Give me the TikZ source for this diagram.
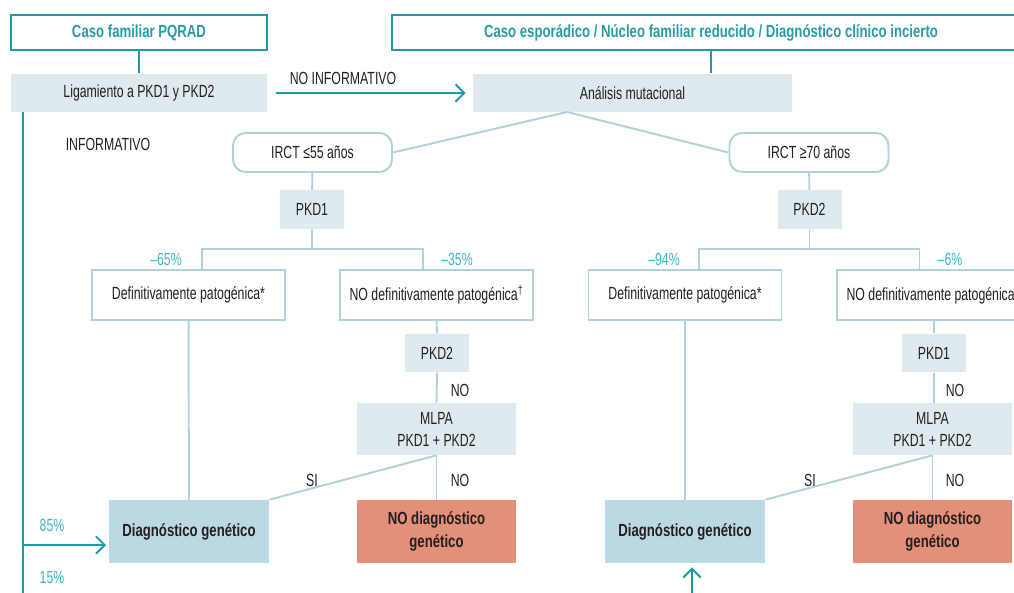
\documentclass[tikz,border=0pt]{standalone}
\usepackage{fontspec}
\setmainfont{Liberation Sans}[FakeStretch=0.7, BoldFeatures={FakeStretch=0.75}]
\usepackage{xcolor}
\usetikzlibrary{arrows.meta}

\definecolor{tealdark}{HTML}{1E9AA4}
\definecolor{tealtext}{HTML}{2A9BA6}
\definecolor{tealpct}{HTML}{3DB3C2}
\definecolor{linelight}{HTML}{AFD2DB}
\definecolor{boxgray}{HTML}{DEEAEE}
\definecolor{boxdiag}{HTML}{BCD9E2}
\definecolor{boxno}{HTML}{E3907A}
\definecolor{txt}{HTML}{231F20}

\begin{document}
\begin{tikzpicture}[x=0.02cm, y=-0.02cm]
\tikzstyle{every node}=[font=\fontsize{10}{12.5}\selectfont, text=txt, inner sep=0pt]
\tikzstyle{casebox}=[draw=tealdark, line width=1.4pt, text=tealtext, font=\fontsize{10}{12}\selectfont\bfseries, minimum height=0.7cm]
\tikzstyle{greybox}=[fill=boxgray, minimum height=0.77cm]
\tikzstyle{agebox}=[draw=linelight, line width=1.1pt, rounded corners=0.25cm, minimum width=3.18cm, minimum height=0.78cm]
\tikzstyle{varbox}=[draw=linelight, line width=1.1pt, minimum width=3.86cm, minimum height=1cm]
\tikzstyle{diagbox}=[fill=boxdiag, font=\fontsize{10}{13}\selectfont\bfseries, minimum width=3.2cm, minimum height=1.26cm]
\tikzstyle{nodiagbox}=[fill=boxno, font=\fontsize{10}{13}\selectfont\bfseries, align=center, minimum width=3.18cm, minimum height=1.26cm]
\tikzstyle{pct}=[text=tealpct]
\tikzstyle{lnk}=[draw=linelight, line width=1.1pt]
\tikzstyle{tarrow}=[draw=tealdark, line width=1.1pt, -{Straight Barb[length=5pt, width=10pt]}]

\clip (0,0) rectangle (1014,592);

% top row
\node[casebox, minimum width=5.12cm] (famil) at (139,32.5) {Caso familiar PQRAD};
\node[casebox, minimum width=12.76cm] (espor) at (711,32.5) {Caso esporádico / Núcleo familiar reducido / Diagnóstico clínico incierto};
\node[greybox, minimum width=5.12cm] (liga) at (139,93) {Ligamiento a PKD1 y PKD2};
\node[greybox, minimum width=6.38cm] (analis) at (632.5,93) {Análisis mutacional};
\draw[tealdark, line width=1.4pt] (famil) -- (liga);
\draw[tealdark, line width=1.4pt] (espor.south) -- (espor.south |- analis.north);

\draw[tarrow] ([xshift=0.18cm]liga.east) -- ([xshift=-0.14cm]analis.west);
    \node (noinf) at (343,78) {NO INFORMATIVO};
    \node (inf) at (108,144) {INFORMATIVO};

% familiar case: straight to diagnosis
\coordinate (lfttop) at (23,112);
\coordinate (lftbot) at (23,600);
\coordinate (in85) at (106,545);
\draw[tealdark, line width=1.2pt] (lfttop) -- (lftbot);
\draw[tarrow] (lfttop |- in85) -- (in85);
    \node[pct] (p85) at (52,525) {85\%};
    \node[pct] (p15) at (52,577) {15\%};

% age split
\node[agebox] (irctA) at (312.5,152.5) {IRCT ≤55 años};
\node[agebox] (irctB) at (809,152.5) {IRCT ≥70 años};
\coordinate (asplit) at (567,112);
\draw[lnk] (irctA.east) -- (asplit) -- (irctB.west);

% left branch: PKD1 first
\node[greybox, minimum width=1.28cm] (pkdAa) at (312,209.5) {PKD1};
\node[varbox] (defA) at (188.5,295) {Definitivamente patogénica*};
\node[varbox] (nodefA) at (436.5,295) {NO definitivamente patogénica\textsuperscript{†}};
\node[greybox, minimum width=1.28cm] (pkdAb) at (437,353) {PKD2};
\node[greybox, align=center, minimum width=3.18cm, minimum height=1.04cm] (mlpaA) at (436.5,429) {MLPA\\PKD1 + PKD2};
\node[diagbox] (diagA) at (189,531.5) {Diagnóstico genético};
\node[nodiagbox] (nodiagA) at (436.5,531.5) {NO diagnóstico\\genético};
\coordinate (brA) at (312,249);
\draw[lnk] (irctA) -- (pkdAa);
\draw[lnk] (pkdAa) -- (brA);
\draw[lnk] ([xshift=0.27cm]defA.north) |- (brA) -| ([xshift=-0.27cm]nodefA.north);
    \node[pct] (pA1) at (166,259) {–65\%};
    \node[pct] (pA2) at (457,259) {–35\%};
\draw[lnk] (defA) -- (diagA);
\draw[lnk] (nodefA) -- (pkdAb);
\draw[lnk] (pkdAb) -- (mlpaA);
    \node (noA1) at (460,390) {NO};
\draw[lnk] (mlpaA.south) -- (nodiagA.north);
    \node (noA2) at (460,480) {NO};
\draw[lnk] (mlpaA.south) -- (diagA.north east);
    \node (siA) at (312,480) {SI};

% right branch: PKD2 first
\node[greybox, minimum width=1.28cm] (pkdBb) at (809.5,209.5) {PKD2};
\node[varbox] (defB) at (685,295) {Definitivamente patogénica*};
\node[varbox] (nodefB) at (933.5,295) {NO definitivamente patogénica\textsuperscript{†}};
\node[greybox, minimum width=1.28cm] (pkdBa) at (934,353) {PKD1};
\node[greybox, align=center, minimum width=3.18cm, minimum height=1.04cm] (mlpaB) at (932.5,429) {MLPA\\PKD1 + PKD2};
\node[diagbox] (diagB) at (685,531.5) {Diagnóstico genético};
\node[nodiagbox] (nodiagB) at (932.5,531.5) {NO diagnóstico\\genético};
\coordinate (brB) at (809.5,249);
\draw[lnk] (irctB) -- (pkdBb);
\draw[lnk] (pkdBb) -- (brB);
\draw[lnk] ([xshift=0.28cm]defB.north) |- (brB) -| ([xshift=-0.28cm]nodefB.north);
    \node[pct] (pB1) at (664,259) {–94\%};
    \node[pct] (pB2) at (950,259) {–6\%};
\draw[lnk] (defB) -- (diagB);
\draw[lnk] (nodefB.south -| pkdBa) -- (pkdBa);
\draw[lnk] (pkdBa.south) -- (pkdBa.south |- mlpaB.north);
    \node (noB1) at (955,390) {NO};
\draw[lnk] (mlpaB.south) -- (nodiagB.north);
    \node (noB2) at (955,480) {NO};
\draw[lnk] (mlpaB.south) -- (diagB.north east);
    \node (siB) at (810,480) {SI};

\coordinate (bup) at (692,600);
\draw[tarrow] (bup) -- ([yshift=-0.08cm]bup |- diagB.south);

\end{tikzpicture}
\end{document}
